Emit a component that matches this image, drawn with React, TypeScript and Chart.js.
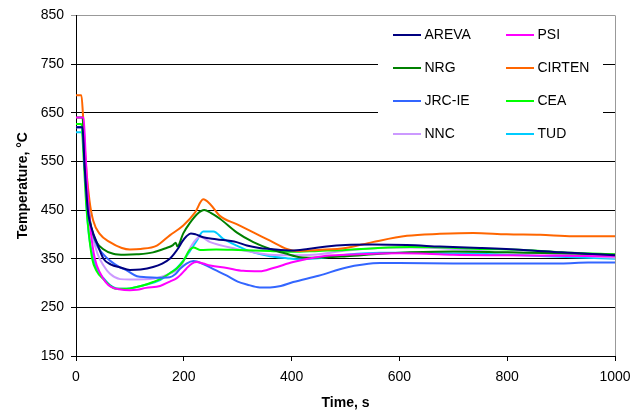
import React, { useEffect, useRef } from "react";
import { Chart, registerables } from "chart.js";

Chart.register(...registerables);

// ---- data ----
const AREVA_T = [0, 12, 16, 22, 30, 38, 51, 65, 82, 100, 120, 143, 160, 174, 182, 190, 197, 205, 213, 222, 236, 260, 298, 317, 340, 360, 400, 430, 465, 500, 550, 614, 675, 750, 830, 900, 1000];
const AREVA_V = [620, 620, 540, 450, 409, 385, 350, 338, 332, 327, 328, 333, 340, 350, 360, 372, 385, 396, 402, 400, 394, 390, 384, 377, 372, 370, 367, 370, 375, 378, 379, 378, 375, 372, 368, 363, 357];

const PSI_T = [0, 14, 18, 22, 28, 35, 45, 55, 65, 80, 100, 113, 130, 156, 174, 187, 195, 205, 215, 224, 236, 249, 280, 310, 341, 366, 403, 430, 465, 500, 550, 600, 650, 700, 800, 900, 1000];
const PSI_V = [640, 640, 560, 480, 400, 350, 320, 302, 292, 287, 285, 286, 290, 294, 303, 310, 318, 330, 340, 343, 340, 336, 331, 325, 324, 331, 343, 350, 356, 358, 360, 361, 360, 358, 357, 356, 355];

const NRG_T = [0, 12, 16, 20, 26, 32, 38, 50, 69, 90, 113, 143, 165, 180, 185, 188, 199, 211, 225, 238, 250, 267, 298, 329, 360, 391, 416, 440, 502, 564, 620, 700, 800, 900, 1000];
const NRG_V = [640, 640, 560, 500, 428, 400, 384, 370, 360, 358, 359, 363, 371, 378, 383, 375, 402, 423, 442, 450, 444, 432, 404, 384, 370, 360, 353, 352, 355, 360, 363, 365, 363, 361, 358];

const CIRTEN_T = [0, 10, 13, 18, 25, 32, 44, 63, 85, 100, 120, 150, 174, 199, 221, 236, 249, 267, 298, 329, 360, 391, 410, 450, 500, 550, 614, 675, 737, 799, 861, 922, 1000];
const CIRTEN_V = [686, 686, 645, 550, 470, 428, 401, 384, 372, 369, 370, 377, 398, 418, 445, 472, 462, 438, 421, 404, 387, 370, 366, 368, 372, 384, 397, 401, 403, 400, 399, 396, 396];

const JRC_T = [0, 12, 16, 22, 30, 40, 50, 63, 80, 94, 113, 130, 150, 174, 184, 193, 205, 218, 236, 258, 280, 300, 317, 341, 360, 380, 403, 450, 502, 533, 564, 600, 700, 800, 900, 950, 1000];
const JRC_V = [620, 620, 540, 450, 405, 375, 360, 346, 333, 326, 314, 312, 311, 312, 318, 329, 340, 345, 339, 327, 315, 303, 297, 291, 291, 294, 302, 315, 332, 338, 341, 341, 340, 340, 340, 342, 342];

const CEA_T = [0, 10, 14, 19, 24, 30, 38, 51, 63, 75, 87, 100, 124, 143, 156, 174, 187, 199, 211, 218, 230, 260, 300, 360, 400, 450, 500, 560, 620, 680, 750, 830, 920, 1000];
const CEA_V = [627, 627, 560, 460, 400, 350, 325, 308, 295, 288, 288, 289, 295, 302, 308, 320, 330, 345, 368, 373, 368, 369, 368, 366, 364, 366, 368, 372, 374, 373, 370, 368, 362, 359];

const NNC_T = [0, 12, 16, 22, 30, 40, 51, 63, 82, 100, 137, 150, 174, 193, 205, 215, 224, 230, 249, 298, 329, 360, 400, 440, 502, 564, 620, 700, 760, 850, 922, 1000];
const NNC_V = [620, 620, 540, 460, 400, 360, 336, 319, 308, 307, 308, 310, 319, 332, 357, 378, 391, 395, 384, 370, 363, 358, 357, 358, 367, 372, 373, 370, 365, 362, 357, 352];

const TUD_T = [0, 10, 13, 18, 20, 24, 30, 38, 51, 63, 75, 87, 100, 124, 156, 174, 187, 199, 211, 224, 236, 255, 273, 298, 329, 360, 391, 410, 450, 502, 564, 620, 675, 750, 827, 922, 1000];
const TUD_V = [610, 610, 600, 500, 450, 398, 360, 330, 310, 296, 289, 288, 289, 295, 306, 320, 331, 346, 365, 387, 406, 406, 391, 377, 363, 355, 351, 349, 351, 358, 362, 362, 361, 360, 357, 353, 350];

const SERIES_NAMES = ["AREVA", "PSI", "NRG", "CIRTEN", "JRC-IE", "CEA", "NNC", "TUD"];
const SERIES_T = [AREVA_T, PSI_T, NRG_T, CIRTEN_T, JRC_T, CEA_T, NNC_T, TUD_T];
const SERIES_V = [AREVA_V, PSI_V, NRG_V, CIRTEN_V, JRC_V, CEA_V, NNC_V, TUD_V];
const SERIES_COLORS = ["#000080", "#FF00FF", "#008000", "#FF6600", "#3366FF", "#00FF00", "#CC99FF", "#00CCFF"];

const X_MIN = 0;
const X_MAX = 1000;
const X_STEP = 200;
const Y_MIN = 150;
const Y_MAX = 850;
const Y_STEP = 100;
const X_TITLE = "Time, s";
const Y_TITLE = "Temperature, °C";

const FONT_FAMILY = "'Liberation Sans', Arial, sans-serif";

const legendPlugin = {
  id: "customLegend",
  afterDraw(chart: any) {
    const { ctx, chartArea } = chart;
    ctx.save();
    // plot-area right border (gray)
    ctx.strokeStyle = "#999999";
    ctx.lineWidth = 1;
    ctx.beginPath();
    ctx.moveTo(Math.round(chartArea.right) + 0.5, chartArea.top);
    ctx.lineTo(Math.round(chartArea.right) + 0.5, chartArea.bottom);
    ctx.stroke();

    // legend box (white background, no border)
    const boxLeft = 378;
    const boxTop = chartArea.top + 1.5;
    ctx.fillStyle = "#ffffff";
    ctx.fillRect(boxLeft, boxTop, 225, 134);

    const rowY = [35, 68, 101, 134];
    const colX = [393, 506];
    const lineLen = 28;
    ctx.font = `14px ${FONT_FAMILY}`;
    ctx.textBaseline = "middle";
    ctx.textAlign = "left";
    SERIES_NAMES.forEach((name, i) => {
      const r = Math.floor(i / 2);
      const c = i % 2;
      const y = rowY[r];
      const x = colX[c];
      ctx.strokeStyle = SERIES_COLORS[i];
      ctx.lineWidth = 2;
      ctx.beginPath();
      ctx.moveTo(x, y);
      ctx.lineTo(x + lineLen, y);
      ctx.stroke();
      ctx.fillStyle = "#000000";
      ctx.fillText(name, x + lineLen + 3.5, y + 0.5);
    });
    ctx.restore();
  },
};

export default function App() {
  const canvasRef = useRef<HTMLCanvasElement | null>(null);

  useEffect(() => {
    if (!canvasRef.current) return;
    const datasets = SERIES_NAMES.map((name, i) => ({
      label: name,
      data: SERIES_T[i].map((t, k) => ({ x: t, y: SERIES_V[i][k] })),
      borderColor: SERIES_COLORS[i],
      backgroundColor: SERIES_COLORS[i],
      borderWidth: 2,
      pointRadius: 0,
      fill: false,
      cubicInterpolationMode: "monotone" as const,
    }));

    const chart = new Chart(canvasRef.current, {
      type: "line",
      data: { datasets },
      options: {
        animation: false,
        responsive: false,
        layout: { padding: { top: 15, right: 29, bottom: 0, left: 0 } },
        plugins: {
          legend: { display: false },
          tooltip: { enabled: false },
        },
        scales: {
          x: {
            type: "linear",
            min: X_MIN,
            max: X_MAX,
            afterFit: (scale: any) => {
              scale.height = 57;
            },
            ticks: {
              stepSize: X_STEP,
              color: "#000",
              padding: 8,
              font: { family: FONT_FAMILY, size: 14 },
              maxRotation: 0,
              callback: (v: any) => String(v),
            },
            grid: {
              drawOnChartArea: false,
              drawTicks: true,
              tickLength: 5,
              color: "#000",
            },
            border: { display: true, color: "#000", width: 1 },
            title: {
              display: true,
              text: X_TITLE,
              color: "#000",
              font: { family: FONT_FAMILY, size: 14, weight: "bold" },
              padding: { top: 0, bottom: 1 },
            },
          },
          y: {
            type: "linear",
            min: Y_MIN,
            max: Y_MAX,
            afterFit: (scale: any) => {
              scale.width = 76;
            },
            ticks: {
              stepSize: Y_STEP,
              color: "#000",
              padding: 7,
              font: { family: FONT_FAMILY, size: 14 },
              callback: (v: any) => String(v),
            },
            grid: {
              drawTicks: true,
              tickLength: 5,
              color: (ctx: any) => (ctx.tick && ctx.tick.value === Y_MAX ? "#999999" : "#000000"),
            },
            border: { display: true, color: "#000", width: 1 },
            title: {
              display: true,
              text: Y_TITLE,
              color: "#000",
              font: { family: FONT_FAMILY, size: 14, weight: "bold" },
              padding: { top: 15, bottom: 0 },
            },
          },
        },
      },
      plugins: [legendPlugin],
    });

    return () => chart.destroy();
  }, []);

  return (
    <div style={{ position: "absolute", left: 0, top: 0, width: 644, height: 413, background: "#fff" }}>
      <canvas ref={canvasRef} width={644} height={413} />
    </div>
  );
}
